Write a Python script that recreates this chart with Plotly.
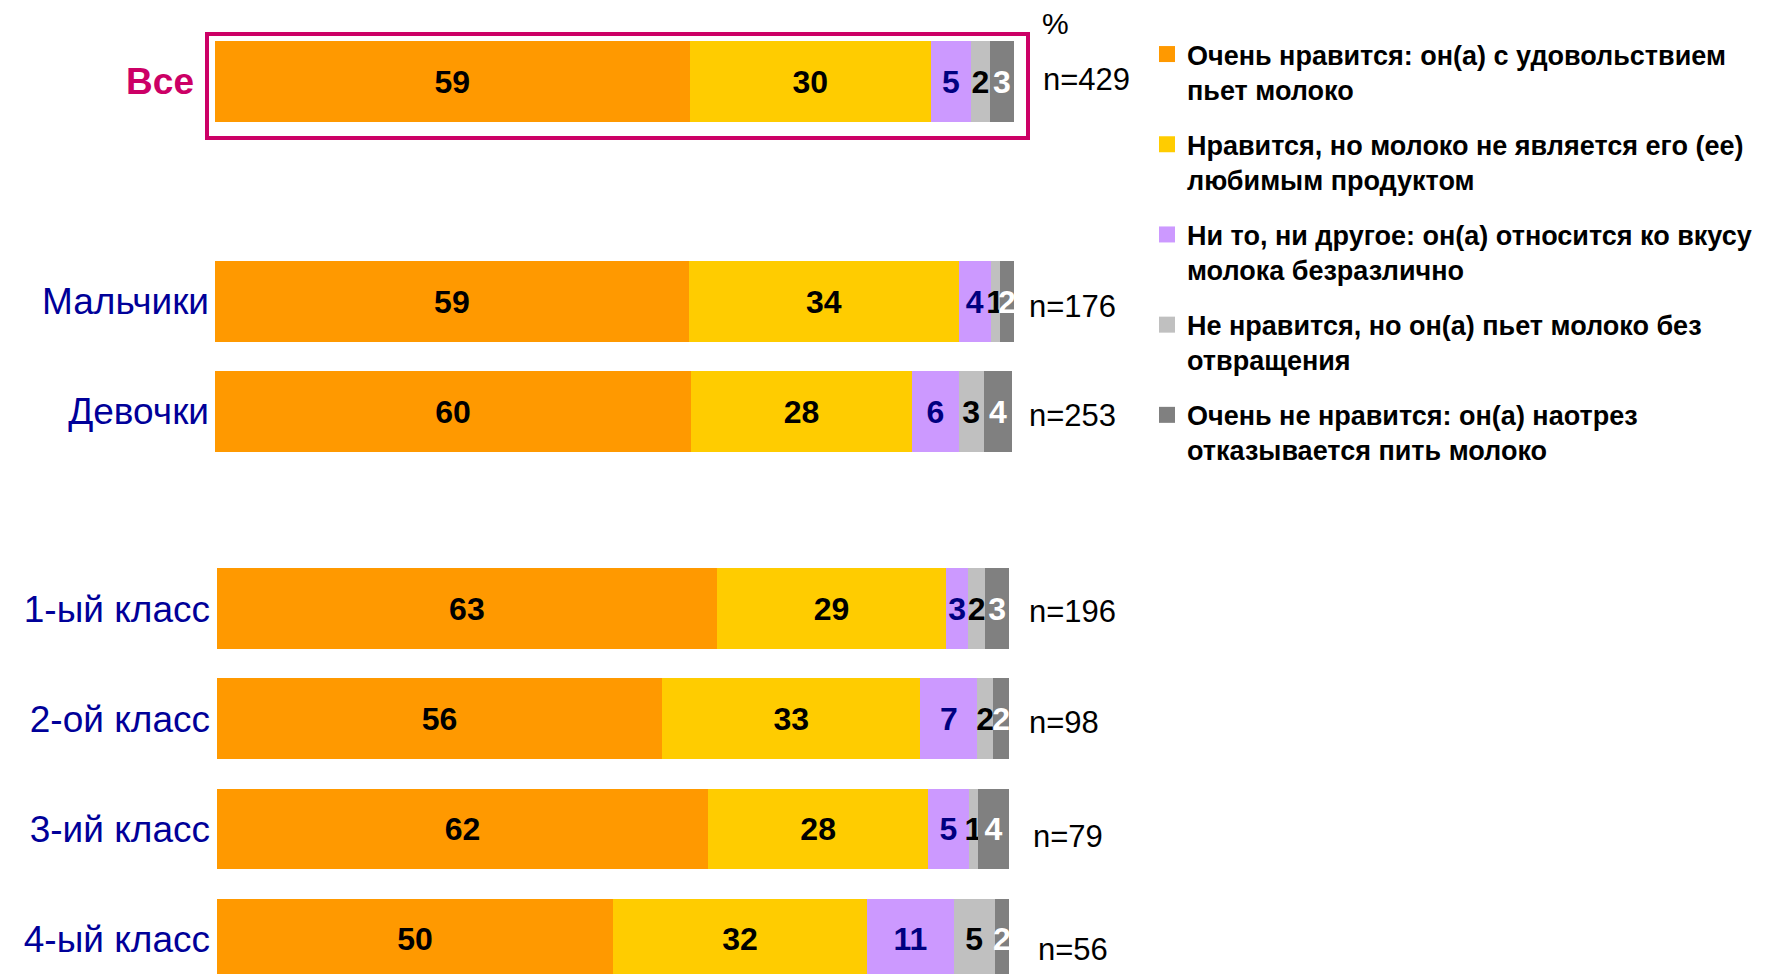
import plotly.graph_objects as go

# ---------------- data ----------------
rows = ["Все", "Мальчики", "Девочки", "1-ый класс", "2-ой класс", "3-ий класс", "4-ый класс"]
row_group = [0, 1, 1, 2, 2, 2, 2]
sample_n = [429, 176, 253, 196, 98, 79, 56]

series_names = [
    "Очень нравится: он(а) с удовольствием<br>пьет молоко",
    "Нравится, но молоко не является его (ее)<br>любимым продуктом",
    "Ни то, ни другое: он(а) относится ко вкусу<br>молока безразлично",
    "Не нравится, но он(а) пьет молоко без<br>отвращения",
    "Очень не нравится: он(а) наотрез<br>отказывается пить молоко",
]
very_like = [59.4, 59.3, 59.6, 63.1, 56.2, 62.0, 50.0]
like = [30.2, 33.8, 27.6, 29.0, 32.6, 27.8, 32.1]
neutral = [5.0, 4.0, 5.9, 2.7, 7.2, 5.1, 10.9]
dislike = [2.4, 1.1, 3.1, 2.2, 2.0, 1.2, 5.2]
very_dislike = [3.0, 1.8, 3.6, 3.0, 2.0, 3.9, 1.8]
series_values = [very_like, like, neutral, dislike, very_dislike]

# ---------------- styles ----------------
series_colors = ["#FF9900", "#FFCC00", "#CC99FF", "#C0C0C0", "#808080"]
label_colors = ["#000000", "#000000", "#000080", "#000000", "#FFFFFF"]
n_label_left = [1041, 1027, 1027, 1027, 1027, 1031, 1036]
n_label_shift = [2, -5, -4, -3, -4, -8, -10]
FONT = "Liberation Sans, Arial, sans-serif"
W, H = 1778, 974
OFF = 8  # page body margin of the html page


def px_x(p):
    return (p - OFF) / W


def px_y(p):
    return 1 - (p - OFF) / H


axes = [("x", "y"), ("x", "y2"), ("x2", "y3")]
yrefs = ["y", "y2", "y3"]

fig = go.Figure()
for s, (name, vals, col, tcol) in enumerate(zip(series_names, series_values, series_colors, label_colors)):
    for g, (xa, ya) in enumerate(axes):
        idx = [i for i in range(len(rows)) if row_group[i] == g]
        fig.add_trace(go.Bar(
            orientation="h",
            y=[rows[i] for i in idx],
            x=[vals[i] for i in idx],
            xaxis=xa, yaxis=ya,
            name=name, legendgroup=f"g{s}", showlegend=False,
            marker=dict(color=col, line=dict(width=0)),
            texttemplate="%{x:.0f}",
            textposition="inside", insidetextanchor="middle",
            textangle=0, constraintext="none",
            insidetextfont=dict(family=FONT, size=32, color=tcol, weight="bold"),
            hoverinfo="skip",
        ))
    # legend proxy with a larger square symbol
    fig.add_trace(go.Scatter(
        x=[None], y=[None], xaxis="x", yaxis="y", mode="markers",
        marker=dict(symbol="square", size=16, color=col),
        name=name, legendgroup=f"g{s}", showlegend=True, hoverinfo="skip",
    ))

annotations = []
for i, r in enumerate(rows):
    annotations.append(dict(
        xref="paper", yref=yrefs[row_group[i]],
        x=px_x(n_label_left[i]), y=r,
        text=f"n={sample_n[i]}", showarrow=False, xanchor="left", yanchor="middle",
        yshift=n_label_shift[i],
        font=dict(family=FONT, size=31, color="black"),
    ))
annotations.append(dict(
    xref="paper", yref="paper", x=px_x(1040), y=px_y(23), text="%", showarrow=False,
    xanchor="left", yanchor="middle", font=dict(family=FONT, size=30, color="black"),
))

yaxis_common = dict(type="category", showgrid=False, zeroline=False, showline=False, ticks="",
                    fixedrange=True)

fig.update_layout(
    width=W, height=H,
    margin=dict(l=0, r=0, t=0, b=0),
    paper_bgcolor="white", plot_bgcolor="white",
    barmode="stack", bargap=0.268,
    showlegend=True,
    xaxis=dict(domain=[px_x(215), px_x(1014)], range=[0, 100], visible=False, fixedrange=True, anchor="y"),
    xaxis2=dict(domain=[px_x(217), px_x(1009)], range=[0, 100], visible=False, fixedrange=True, anchor="y3"),
    yaxis=dict(**yaxis_common, domain=[px_y(136.5), px_y(26.5)], anchor="x",
               categoryarray=rows[:1], range=[0.5, -0.5], ticklabelstandoff=20,
               tickfont=dict(family=FONT, size=37, color="#CC0066", weight="bold")),
    yaxis2=dict(**yaxis_common, domain=[px_y(466.5), px_y(246.5)], anchor="x",
                categoryarray=rows[1:3], range=[1.5, -0.5], ticklabelstandoff=5,
                tickfont=dict(family=FONT, size=37, color="#000099")),
    yaxis3=dict(**yaxis_common, domain=[0, px_y(553.5)], anchor="x2",
                categoryarray=rows[3:], range=[3.39, -0.5], ticklabelstandoff=6,
                tickfont=dict(family=FONT, size=37, color="#000099")),
    legend=dict(x=px_x(1147), y=px_y(30), xanchor="left", yanchor="top", valign="top",
                traceorder="grouped", tracegroupgap=17, bgcolor="rgba(0,0,0,0)",
                font=dict(family=FONT, size=27, color="black", weight="bold"),
                itemclick=False, itemdoubleclick=False),
    annotations=annotations,
    shapes=[dict(type="rect", xref="paper", yref="paper",
                 x0=px_x(207), x1=px_x(1028), y0=px_y(138), y1=px_y(34),
                 line=dict(color="#CC0066", width=4), fillcolor="rgba(0,0,0,0)")],
)

fig.write_html("out.html")
